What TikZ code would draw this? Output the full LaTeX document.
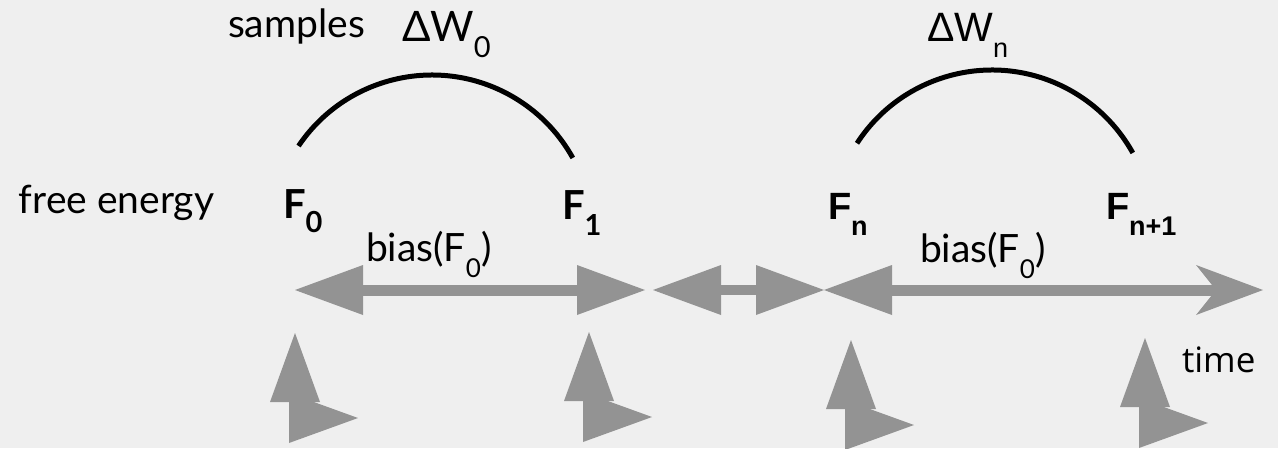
\documentclass[tikz,border=0pt]{standalone}
\usepackage{fontspec}
\setmainfont{Lato}
\newfontfamily\arialfont{Liberation Sans}
\newfontfamily\timefont{Open Sans}
\usetikzlibrary{arrows.meta}
\definecolor{bgc}{HTML}{EFEFEF}
\definecolor{arrc}{HTML}{939393}
\newcommand{\lowsub}[3]{\raisebox{-#1pt}{\fontsize{#2}{#2}\selectfont #3}}
\begin{document}
\begin{tikzpicture}[x=1pt,y=-1pt,
  lbl/.style={inner sep=0pt, outer sep=0pt, anchor=base west, text=black},
  gill/.style={lbl, font=\fontsize{39}{41}\selectfont},
  gillbig/.style={lbl, font=\fontsize{42}{44}\selectfont},
  gillbold/.style={lbl, font=\fontsize{40}{42}\selectfont\bfseries},
  arialreg/.style={lbl, font=\arialfont\fontsize{41}{43}\selectfont},
  arialbold/.style={lbl, font=\arialfont\fontsize{38}{40}\selectfont\bfseries},
  timestyle/.style={lbl, font=\timefont\fontsize{35}{37}\selectfont},
  tri/.tip={Triangle[length=68pt,width=50pt,line width=0pt]},
  stl/.tip={Stealth[length=67pt,width=50pt,inset=20pt,line width=0pt]},
  harrow/.style={draw=arrc, fill=arrc, line width=11pt},
  arcline/.style={draw=black, line width=5pt},
  pics/axhead/.style={code={
    \fill[arrc] (0,0) -- (25,69) -- (-25,69) -- cycle;
    \fill[arrc] (-6,60) -- (63,85) -- (-6,110) -- cycle;
  }}]
\fill[bgc] (0,0) rectangle (1278,448);
\useasboundingbox (0,0) rectangle (1278,448);

% labels
\node[gill] (free) at (19,213) {free energy};
\node[gill] (samples) at (228,37) {samples};
\node[gillbig] (dw0) at (402,41) {ΔW\lowsub{16}{29}{0}};
\node[arialreg] (dwn) at (927,41) {ΔW\lowsub{16}{27}{n}};
\node[gillbold] (F0) at (283,218) {F\lowsub{14}{29}{0}};
\node[gillbold] (F1) at (562,219) {F\lowsub{16}{29}{1}};
\node[arialbold] (Fn) at (828,219) {F\lowsub{16}{27}{n}};
\node[arialbold] (Fn1) at (1106,219) {F\lowsub{16}{27}{n+1}};
\node[gill] (bias0) at (366,261) {bias(F\lowsub{16}{26}{0})};
\node[gill] (bias1) at (920,262) {bias(F\lowsub{16}{26}{0})};
\node[timestyle] (time) at (1182,372) {time};

% arcs
\coordinate (c1) at (432,236);
\coordinate (c2) at (992,231);
\draw[arcline] ([shift={(146:161pt)}]c1) arc[start angle=146, end angle=29, radius=161pt];
\draw[arcline] ([shift={(147:161pt)}]c2) arc[start angle=147, end angle=29, radius=161pt];

% horizontal arrows
\coordinate (a1l) at (295,290);
\coordinate (a1r) at (645,290);
\coordinate (a2l) at (653,290);
\coordinate (a2r) at (824,290);
\coordinate (a3r) at (1263,290);
\draw[harrow, {tri}-{tri}] (a1l) -- (a1r);
\draw[harrow, line width=10pt, {tri}-{tri}] (a2l) -- (a2r);
\draw[harrow, {tri}-{stl}] (a2r) -- (a3r);

% bottom arrowheads
\pic at (295,333) {axhead};
\pic at (589,332) {axhead};
\pic at (851,340) {axhead};
\pic at (1145,338) {axhead};
\end{tikzpicture}
\end{document}
